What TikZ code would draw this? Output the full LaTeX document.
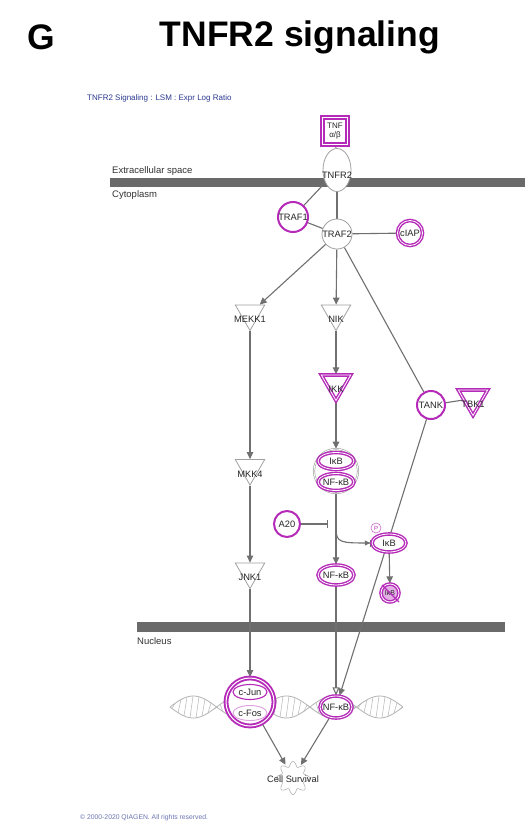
\documentclass[tikz,border=0pt]{standalone}
\usepackage{fontspec}
\setmainfont{Liberation Sans}
\usetikzlibrary{shapes.geometric,arrows.meta,calc}
\definecolor{mag}{HTML}{B52AB8}
\definecolor{magl}{HTML}{E3B0E6}
\definecolor{edgegray}{HTML}{707070}
\definecolor{bargray}{HTML}{6A6A6A}
\definecolor{nodegray}{HTML}{A0A0A0}
\definecolor{navy}{HTML}{2B3990}
\definecolor{dnagray}{HTML}{B4B4B4}
\pgfdeclarelayer{bg}
\pgfdeclarelayer{edges}
\pgfsetlayers{bg,edges,main}
\tikzset{
  lab/.style={font=\fontsize{9.3}{10}\selectfont, text=black!85, inner sep=0},
  conn/.style={draw=edgegray, line width=1.1pt},
  arr/.style={conn, -{Triangle[length=7pt,width=6.5pt]}},
  openarr/.style={conn, -{Triangle[open,length=8pt,width=7pt,fill=white]}},
  inh/.style={conn, -{Bar[width=8pt]}},
  graycirc/.style={circle, draw=nodegray, fill=white, line width=0.8pt, inner sep=0},
  magcirc/.style={circle, draw=mag, fill=white, line width=2pt, inner sep=0},
  magdbl/.style={draw=mag, double=white, double distance=0.8pt, line width=1.4pt, fill=white, inner sep=0},
  tri/.style={regular polygon, regular polygon sides=3, shape border rotate=180, minimum size=34pt, inner sep=0, fill=white},
  graytri/.style={tri, draw=nodegray, line width=0.8pt},
  comp/.style={anchor=west, font=\fontsize{9.5}{10}\selectfont, text=black!80, inner sep=0},
  dna/.style={draw=dnagray, line width=0.8pt},
  gear/.style={draw=black!30, line width=0.6pt}
}
\begin{document}
\begin{tikzpicture}[x=1pt,y=-1pt]
\useasboundingbox (0,0) rectangle (525,822);
\begin{pgfonlayer}{bg}
\fill[white] (0,0) rectangle (525,822);
% membranes
\fill[bargray] (110,178) rectangle (525,187);
\fill[bargray] (137,622) rectangle (505,632);
% DNA helix
\foreach \s in {1,-1}
  \draw[dna] plot[domain=170:403,samples=160] (\x,{707+\s*11*sin(3.8627*(\x-170))});
\foreach \x in {172,178,...,400}
  \draw[dna, line width=0.5pt] (\x,{707+11*sin(3.8627*(\x-170))}) -- ({\x+3},{707-11*sin(3.8627*(\x+3-170))});
\end{pgfonlayer}

% titles
\node[font=\fontsize{35.5}{37}\bfseries\selectfont, inner sep=0] (g) at (41,37) {G};
\node[font=\fontsize{35.5}{37}\bfseries\selectfont, inner sep=0] (title) at (300,37) {TNFR2 signaling};
\node[anchor=west, font=\fontsize{8}{9}\selectfont, text=navy, inner sep=0] (sub) at (87,98) {TNFR2 Signaling : LSM : Expr Log Ratio};
\node[anchor=west, font=\fontsize{6.8}{7}\selectfont, text=navy!70, inner sep=0] (copy) at (80,818) {© 2000-2020 QIAGEN. All rights reserved.};

% compartments
\node[comp] (ext) at (112,171) {Extracellular space};
\node[comp] (cyt) at (112,195) {Cytoplasm};
\node[comp] (nuc) at (137,641) {Nucleus};

% nodes
\node[magdbl, rectangle, line width=1.8pt, double distance=1pt, minimum width=25, minimum height=27, font=\fontsize{8}{8.5}\selectfont, align=center, text=black!85] (tnf) at (335,131) {TNF\\α/β};
\node[ellipse, draw=nodegray, fill=white, line width=0.8pt, minimum width=28, minimum height=43, inner sep=0, label={[lab,yshift=-5pt]center:TNFR2}] (tnfr2) at (337,170) {};
\node[magcirc, minimum size=30, label={[lab]center:TRAF1}] (traf1) at (293,217) {};
\node[graycirc, minimum size=30, label={[lab]center:TRAF2}] (traf2) at (337,234) {};
\node[magdbl, circle, minimum size=25, label={[lab]center:cIAP}] (ciap) at (410,233) {};

\node[graytri, label={[lab,yshift=-6pt]center:MEKK1}] (mekk1) at (250,313.5) {};
\node[graytri, label={[lab,yshift=-6pt]center:NIK}] (nik) at (336,313.5) {};
\node[tri, magdbl, minimum size=34pt, label={[lab,yshift=-6pt]center:IKK}] (ikk) at (336,383.5) {};
\node[magcirc, minimum size=28, label={[lab]center:TANK}] (tank) at (431,405) {};
\node[tri, magdbl, minimum size=34pt, label={[lab,yshift=-6pt]center:TBK1}] (tbk1) at (473,398.5) {};
\node[graytri, label={[lab,yshift=-6pt]center:MKK4}] (mkk4) at (250,468) {};
\node[graytri, label={[lab,yshift=-5.5pt]center:JNK1}] (jnk1) at (250,571.5) {};

\node[circle, draw=nodegray, line width=0.6pt, double=white, double distance=0.8pt, fill=white, minimum size=44, inner sep=0] (cplx) at (336,471) {};
\node[magdbl, ellipse, minimum width=36, minimum height=17, label={[lab]center:IκB}] (ikb1) at (336,461) {};
\node[magdbl, ellipse, minimum width=36, minimum height=17, label={[lab]center:NF-κB}] (nfkb1) at (336,482) {};

\node[magcirc, minimum size=26, label={[lab]center:A20}] (a20) at (287,524) {};
\coordinate (a20end) at (328,524);
\node[circle, draw=mag!70, line width=0.6pt, minimum size=10, inner sep=0, font=\fontsize{6}{6}\selectfont, text=mag] (p) at (376,528) {P};
\node[magdbl, ellipse, minimum width=34, minimum height=18, label={[lab]center:IκB}] (ikbp) at (389,543) {};
\node[magdbl, circle, fill=magl, minimum size=18, label={[font=\fontsize{7}{7}\selectfont, text=black!85, inner sep=0]center:IκB}] (deg) at (390,593) {};
\draw[mag, line width=1.1pt] ($(deg)+(-8,-8)$) -- ($(deg)+(9,9)$);
\node[magdbl, ellipse, minimum width=36, minimum height=20, label={[lab]center:NF-κB}] (nfkbc) at (336,575) {};

\node[circle, draw=mag, double=white, double distance=1pt, line width=1.9pt, fill=white, minimum size=48, inner sep=0] (ap1) at (250,702) {};
\node[ellipse, draw=mag!45, line width=0.9pt, minimum width=34, minimum height=15, inner sep=0, label={[lab]center:c-Fos}] (cfos) at (250,713) {};
\node[ellipse, draw=mag, fill=white, line width=1.1pt, minimum width=34, minimum height=15, inner sep=0, label={[lab]center:c-Jun}] (cjun) at (250,692) {};
\node[magdbl, ellipse, minimum width=32, minimum height=22, label={[lab]center:NF-κB}] (nfkbn) at (336,707) {};

\node[circle, minimum size=30, inner sep=0] (cs) at (293,778) {};
\draw[gear] plot[domain=0:360,samples=121] ({293+(14+2.5*cos(8*\x))*cos(\x)},{778+(14+2.5*cos(8*\x))*sin(\x)});
\node[lab] (cslab) at (293,779) {Cell Survival};

\coordinate (br) at (336,528);
\coordinate (ikbin) at (371,543);

\begin{pgfonlayer}{edges}
\draw[conn] (tnf) -- (tnfr2);
\draw[conn] (tnfr2) -- (traf1);
\draw[conn] (tnfr2) -- (traf2);
\draw[conn] (traf1) -- (traf2);
\draw[conn] (traf2) -- (ciap);
\draw[arr] (traf2) -- (mekk1);
\draw[arr] (traf2) -- (nik);
\draw[conn] (traf2) -- (tank);
\draw[arr] (nik) -- (ikk);
\draw[arr] (ikk) -- (cplx);
\draw[conn] (tank) -- (tbk1);
\draw[arr] (mekk1) -- (mkk4);
\draw[arr] (mkk4) -- (jnk1);
\draw[arr] (jnk1) -- (ap1);
\draw[inh] (a20) -- (a20end);
\draw[arr] (cplx) -- (nfkbc);
\draw[conn, -{Triangle[length=5pt,width=5pt]Bar[width=7pt]}] (br) .. controls (336,543) and (340,543) .. (ikbin);
\draw[arr] (ikbp) -- (deg);
\draw[openarr] (nfkbc) -- (nfkbn);
\draw[arr] (tank) -- (nfkbn);
\draw[arr] (ap1) -- (cs);
\draw[arr] (nfkbn) -- (cs);
\end{pgfonlayer}
\end{tikzpicture}
\end{document}
